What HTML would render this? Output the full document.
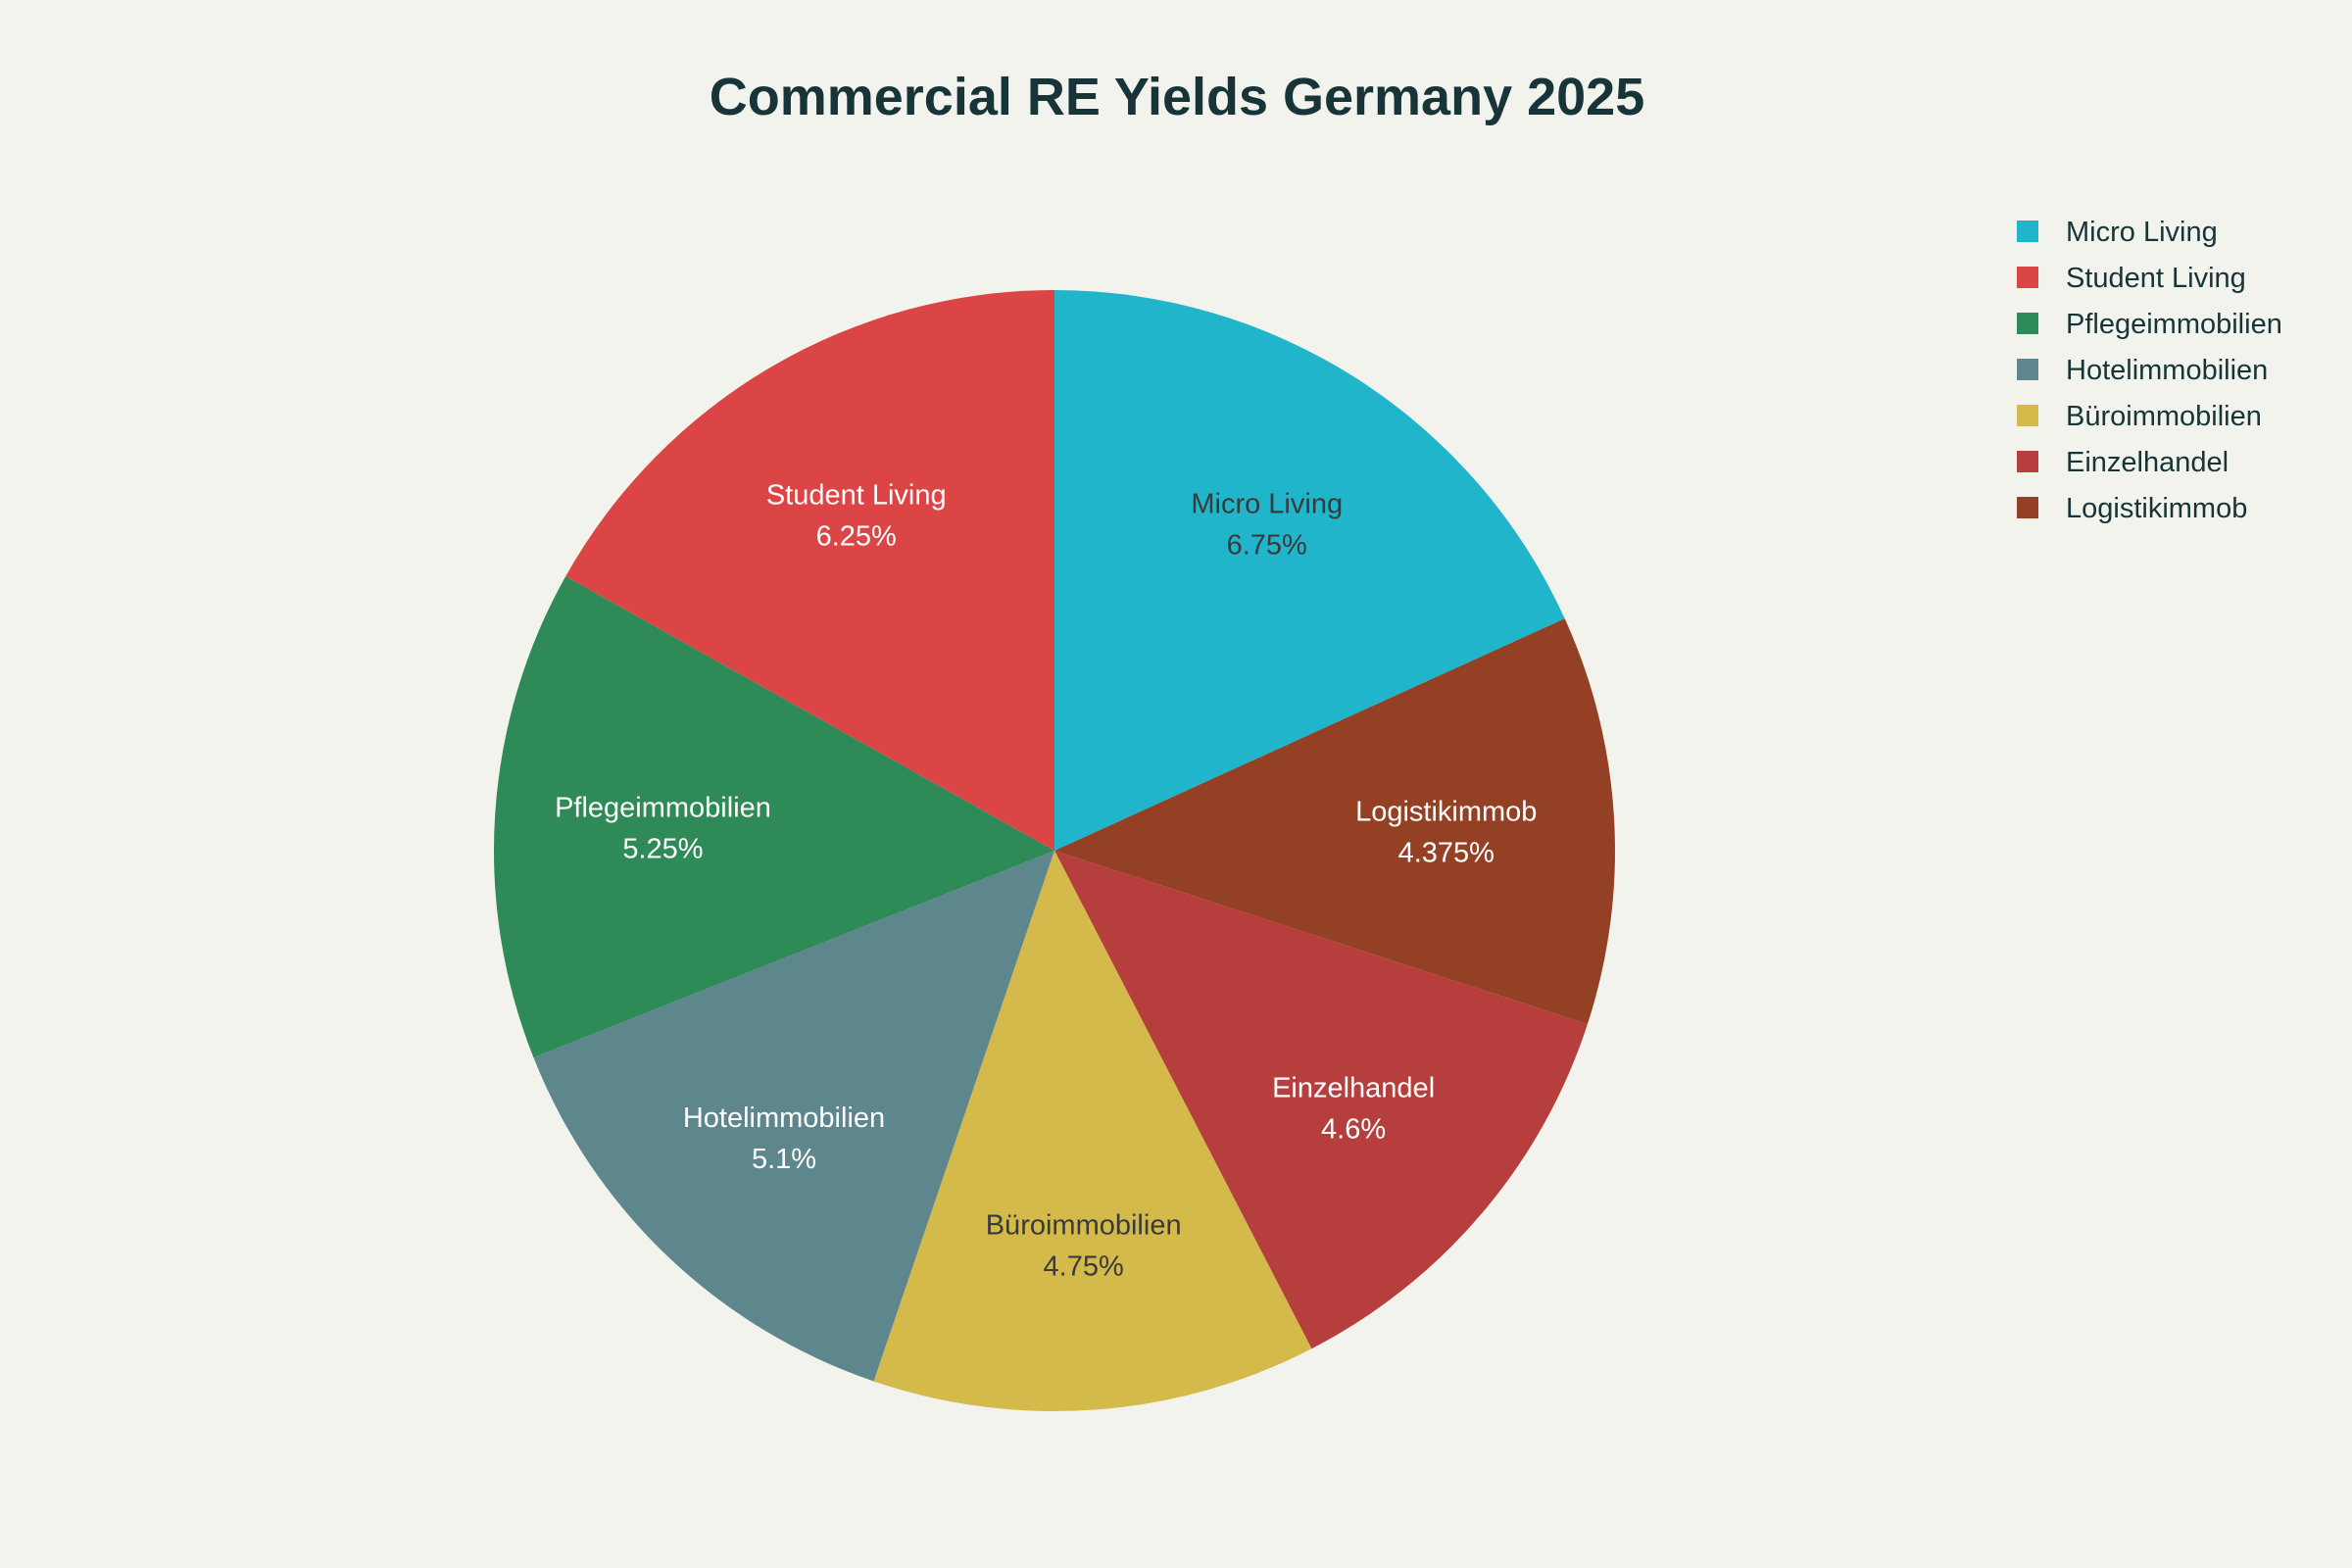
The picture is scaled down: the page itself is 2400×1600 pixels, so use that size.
<!DOCTYPE html>
<html><head><meta charset="utf-8"><style>
html,body{margin:0;padding:0;background:#f3f3ee;}
svg{display:block;font-family:"Liberation Sans",sans-serif;}
</style></head><body>
<svg id="chart" width="2400" height="1600" viewBox="0 0 2400 1600">
<rect width="2400" height="1600" fill="#f3f3ee"/>
<text x="1201" y="117" text-anchor="middle" font-size="54" font-weight="bold" fill="#173538">Commercial RE Yields Germany 2025</text>
<g id="slices"></g>
<g id="labels"></g>
<g id="legend"></g>
</svg>
<script>
const categories = ["Micro Living","Logistikimmob","Einzelhandel","Büroimmobilien","Hotelimmobilien","Pflegeimmobilien","Student Living"];
const values = [6.75,4.375,4.6,4.75,5.1,5.25,6.25];
const valueLabels = ["6.75%","4.375%","4.6%","4.75%","5.1%","5.25%","6.25%"];
const legendOrder = ["Micro Living","Student Living","Pflegeimmobilien","Hotelimmobilien","Büroimmobilien","Einzelhandel","Logistikimmob"];

const colors = {"Micro Living":"#21b5cb","Student Living":"#db4545","Pflegeimmobilien":"#2e8a57","Hotelimmobilien":"#5e878d","Büroimmobilien":"#d3ba4b","Einzelhandel":"#b63f3d","Logistikimmob":"#944024"};
const darkText = {"Micro Living":true,"Büroimmobilien":true};
const NS="http://www.w3.org/2000/svg";
const cx=1076, cy=868, R=572;
const total=values.reduce((a,b)=>a+b,0);
function pt(a,r){return [cx+r*Math.sin(a), cy-r*Math.cos(a)];}
const sg=document.getElementById('slices'), lg=document.getElementById('labels'), leg=document.getElementById('legend');
let a0=0;
categories.forEach((c,i)=>{
  const a1=a0+values[i]/total*2*Math.PI;
  const [x0,y0]=pt(a0,R),[x1,y1]=pt(a1,R);
  const p=document.createElementNS(NS,'path');
  p.setAttribute('d',`M${cx},${cy}L${x0},${y0}A${R},${R} 0 ${a1-a0>Math.PI?1:0} 1 ${x1},${y1}Z`);
  p.setAttribute('fill',colors[c]);
  
  
  sg.appendChild(p);
  const [lx,ly]=pt((a0+a1)/2,R*0.7);
  const col=darkText[c]?'#3a3a3a':'#ffffff';
  [[c,-8],[valueLabels[i],34]].forEach(([s,dy],k)=>{
    const t=document.createElementNS(NS,'text');
    t.setAttribute('x',lx);t.setAttribute('y',ly+dy);
    t.setAttribute('text-anchor','middle');t.setAttribute('font-size','29');t.setAttribute('fill',col);
    t.textContent=s;
    
    
    lg.appendChild(t);
  });
  a0=a1;
});
legendOrder.forEach((c,i)=>{
  const y=236+i*47;
  const r=document.createElementNS(NS,'rect');
  r.setAttribute('x',2058);r.setAttribute('y',y-11);r.setAttribute('width',22);r.setAttribute('height',22);
  r.setAttribute('fill',colors[c]);
  
  
  leg.appendChild(r);
  const t=document.createElementNS(NS,'text');
  t.setAttribute('x',2108);t.setAttribute('y',y+10);t.setAttribute('font-size','29');t.setAttribute('fill','#173538');
  t.textContent=c;
  
  
  leg.appendChild(t);
});
</script>
</body></html>
